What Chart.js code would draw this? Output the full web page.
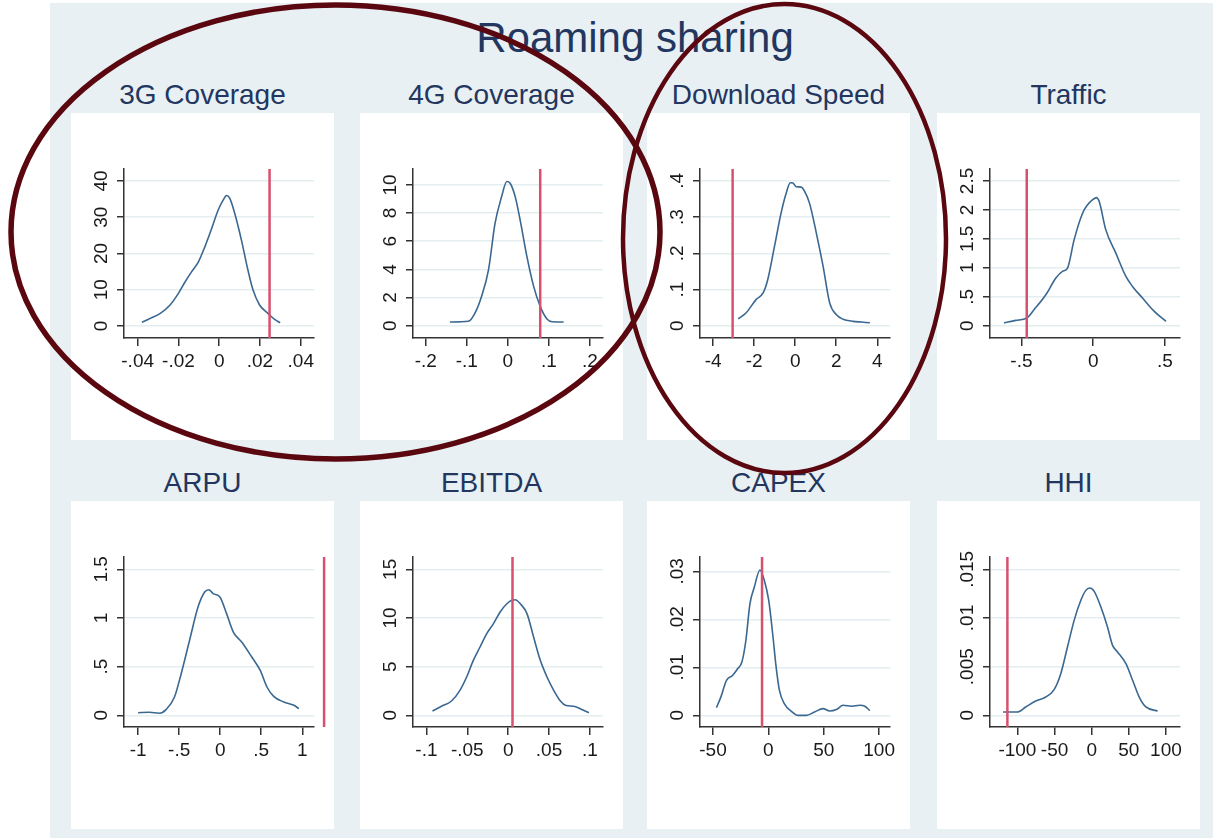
<!DOCTYPE html>
<html><head><meta charset="utf-8">
<script src="https://cdn.jsdelivr.net/npm/chart.js@4.4.1/dist/chart.umd.min.js"></script>
<style>
html,body{margin:0;padding:0;background:#fff;width:1213px;height:838px;overflow:hidden;font-family:"Liberation Sans",Arial,sans-serif;}
#bg{position:absolute;left:50px;top:3px;width:1163px;height:835px;background:#e8f0f3;}
.panel{position:absolute;background:#fff;}
.title{position:absolute;text-align:center;color:#223660;white-space:nowrap;line-height:1;}
#ov{position:absolute;left:0;top:0;pointer-events:none;}
</style></head><body>
<div id="bg"></div>
<div class="title" id="main" style="left:71px;width:1128px;top:16.5px;font-size:42px;">Roaming sharing</div>
<div id="root"></div>
<svg id="ov" width="1213" height="838">
  <ellipse cx="335.5" cy="232" rx="324.5" ry="227" fill="none" stroke="#5a0710" stroke-width="5.5"/>
  <ellipse cx="784.5" cy="238.5" rx="161.5" ry="234.5" fill="none" stroke="#5a0710" stroke-width="4.5"/>
</svg>
<script>
// ---- data ----
const panelTitles = ['3G Coverage','4G Coverage','Download Speed','Traffic','ARPU','EBITDA','CAPEX','HHI'];

const cov3gX = [-0.0379,-0.0338,-0.0289,-0.0241,-0.02,-0.0167,-0.0135,-0.0102,-0.007,-0.0037,-0.0005,0.002,0.0036,0.0052,0.0076,0.0109,0.0141,0.0166,0.0198,0.0239,0.0272,0.0299];
const cov3gY = [1.0,2.1,3.5,5.8,9.0,12.2,15.0,17.7,21.9,26.9,32.0,34.8,36.0,35.2,31.1,23.7,15.4,9.9,5.8,3.5,1.8,0.9];
const cov3gLine = 0.0247;
const cov3gXRange = [-0.0467, 0.0465];
const cov3gYRange = [-3.31, 43.31];
const cov3gXTicks = [-0.04,-0.02,0,0.02,0.04];
const cov3gXLabels = ['-.04','-.02','0','.02','.04'];
const cov3gYTicks = [0,10,20,30,40];
const cov3gYLabels = ['0','10','20','30','40'];

const cov4gX = [-0.141,-0.096,-0.08,-0.064,-0.047,-0.031,-0.015,-0.0024,0.0057,0.018,0.030,0.0465,0.063,0.079,0.0955,0.108,0.136];
const cov4gY = [0.26,0.31,0.9,2.08,3.97,7.28,9.17,10.24,10.12,9.17,7.52,4.92,2.79,1.37,0.47,0.28,0.26];
const cov4gLine = 0.079;
const cov4gXRange = [-0.231, 0.232];
const cov4gYRange = [-0.875, 11.13];
const cov4gXTicks = [-0.2,-0.1,0,0.1,0.2];
const cov4gXLabels = ['-.2','-.1','0','.1','.2'];
const cov4gYTicks = [0,2,4,6,8,10];
const cov4gYLabels = ['0','2','4','6','8','10'];

const speedX = [-2.78,-2.4,-1.91,-1.55,-1.34,-1.01,-0.69,-0.44,-0.24,-0.11,0.05,0.29,0.46,0.70,1.03,1.36,1.68,2.01,2.33,2.82,3.23,3.64];
const speedY = [0.019,0.035,0.072,0.092,0.127,0.219,0.311,0.366,0.395,0.394,0.384,0.383,0.371,0.338,0.256,0.164,0.063,0.030,0.018,0.012,0.010,0.008];
const speedLine = -3.05;
const speedXRange = [-4.64, 4.62];
const speedYRange = [-0.034, 0.433];
const speedXTicks = [-4,-2,0,2,4];
const speedXLabels = ['-4','-2','0','2','4'];
const speedYTicks = [0,0.1,0.2,0.3,0.4];
const speedYLabels = ['0','.1','.2','.3','.4'];

const trafficX = [-0.621,-0.540,-0.463,-0.412,-0.330,-0.260,-0.214,-0.179,-0.133,-0.074,-0.040,-0.005,0.023,0.042,0.088,0.158,0.228,0.274,0.344,0.426,0.507];
const trafficY = [0.046,0.092,0.132,0.276,0.534,0.822,0.937,0.994,1.483,1.943,2.086,2.172,2.213,2.144,1.655,1.253,0.851,0.678,0.477,0.247,0.075];
const trafficLine = -0.463;
const trafficXRange = [-0.719, 0.605];
const trafficYRange = [-0.213, 2.707];
const trafficXTicks = [-0.5,0,0.5];
const trafficXLabels = ['-.5','0','.5'];
const trafficYTicks = [0,0.5,1,1.5,2,2.5];
const trafficYLabels = ['0','.5','1','1.5','2','2.5'];

const arpuX = [-1.0,-0.865,-0.742,-0.66,-0.557,-0.475,-0.373,-0.27,-0.189,-0.139,-0.086,-0.004,0.078,0.16,0.262,0.385,0.488,0.57,0.652,0.775,0.898,0.959];
const arpuY = [0.027,0.031,0.021,0.058,0.188,0.428,0.771,1.113,1.267,1.291,1.25,1.216,1.045,0.856,0.753,0.599,0.462,0.291,0.195,0.137,0.103,0.068];
const arpuLine = 1.266;
const arpuXRange = [-1.172, 1.143];
const arpuYRange = [-0.12, 1.627];
const arpuXTicks = [-1,-0.5,0,0.5,1];
const arpuXLabels = ['-1','-.5','0','.5','1'];
const arpuYTicks = [0,0.5,1,1.5];
const arpuYLabels = ['0','.5','1','1.5'];

const ebitdaX = [-0.0926,-0.0816,-0.0693,-0.059,-0.0508,-0.0426,-0.0344,-0.0262,-0.018,-0.0098,-0.0016,0.0045,0.0086,0.0148,0.023,0.0311,0.0393,0.0475,0.0557,0.0639,0.0701,0.0803,0.0906,0.0988];
const ebitdaY = [0.445,0.925,1.47,2.57,3.94,5.65,7.02,8.39,9.42,10.62,11.47,11.82,11.88,11.47,10.45,8.05,5.65,3.94,2.57,1.47,1.03,0.925,0.58,0.27];
const ebitdaLine = 0.0053;
const ebitdaXRange = [-0.1164, 0.116];
const ebitdaYRange = [-1.2, 16.27];
const ebitdaXTicks = [-0.1,-0.05,0,0.05,0.1];
const ebitdaXLabels = ['-.1','-.05','0','.05','.1'];
const ebitdaYTicks = [0,5,10,15];
const ebitdaYLabels = ['0','5','10','15'];

const capexX = [-46.9,-42.9,-37.8,-32.4,-27.8,-23.9,-20.3,-16.6,-12.7,-7.6,-3.6,0.3,3.9,7.0,10.0,14.5,20.6,26.6,34.2,41.7,49.3,55.3,61.4,67.4,75.0,82.6,87.1,91.6];
const capexY = [0.0016,0.0038,0.0073,0.0083,0.0097,0.0111,0.0156,0.0233,0.0267,0.0303,0.0281,0.0240,0.0170,0.0101,0.0052,0.0024,0.0009,0.0,0.0,0.0007,0.0014,0.0009,0.0012,0.0021,0.0019,0.0021,0.0019,0.0010];
const capexLine = -5.7;
const capexXRange = [-61.7, 109.8];
const capexYRange = [-0.00243, 0.033];
const capexXTicks = [-50,0,50,100];
const capexXLabels = ['-50','0','50','100'];
const capexYTicks = [0,0.01,0.02,0.03];
const capexYLabels = ['0','.01','.02','.03'];

const hhiX = [-119.3,-100,-88.8,-75.3,-61.8,-50.6,-41.6,-32.6,-23.6,-14.6,-7.9,-2.5,3.4,12.4,21.3,28.1,34.8,46.1,55.1,64.0,73.0,88.8];
const hhiY = [0.00034,0.00034,0.00086,0.00147,0.00188,0.00264,0.00428,0.00702,0.00976,0.01182,0.01284,0.01308,0.01274,0.01113,0.00908,0.00719,0.00651,0.00531,0.0036,0.00188,0.00086,0.00045];
const hhiLine = -113.5;
const hhiXRange = [-136.9, 118.9];
const hhiYRange = [-0.0012, 0.01627];
const hhiXTicks = [-100,-50,0,50,100];
const hhiXLabels = ['-100','-50','0','50','100'];
const hhiYTicks = [0,0.005,0.01,0.015];
const hhiYLabels = ['0','.005','.01','.015'];

// ---- assemble ----
const panels = [
  [cov3gX,cov3gY,cov3gLine,cov3gXRange,cov3gYRange,cov3gXTicks,cov3gXLabels,cov3gYTicks,cov3gYLabels],
  [cov4gX,cov4gY,cov4gLine,cov4gXRange,cov4gYRange,cov4gXTicks,cov4gXLabels,cov4gYTicks,cov4gYLabels],
  [speedX,speedY,speedLine,speedXRange,speedYRange,speedXTicks,speedXLabels,speedYTicks,speedYLabels],
  [trafficX,trafficY,trafficLine,trafficXRange,trafficYRange,trafficXTicks,trafficXLabels,trafficYTicks,trafficYLabels],
  [arpuX,arpuY,arpuLine,arpuXRange,arpuYRange,arpuXTicks,arpuXLabels,arpuYTicks,arpuYLabels],
  [ebitdaX,ebitdaY,ebitdaLine,ebitdaXRange,ebitdaYRange,ebitdaXTicks,ebitdaXLabels,ebitdaYTicks,ebitdaYLabels],
  [capexX,capexY,capexLine,capexXRange,capexYRange,capexXTicks,capexXLabels,capexYTicks,capexYLabels],
  [hhiX,hhiY,hhiLine,hhiXRange,hhiYRange,hhiXTicks,hhiXLabels,hhiYTicks,hhiYLabels]
];

const colLeft = [71, 360, 647, 937];
const rowTop = [113, 501];
const rowH = [327, 328];
const panelW = 263;
const FONT = '"Liberation Sans", Arial, sans-serif';
const tickFont = {family: FONT, size: 19};
const mctx = document.createElement('canvas').getContext('2d');
mctx.font = '19px ' + FONT;
const axisCol = '#333333';
const root = document.getElementById('root');

panels.forEach((p, i) => {
  const [xs, ys, vline, xr, yr, xt, xl, yt, yl] = p;
  const col = i % 4, row = Math.floor(i / 4);
  const left = colLeft[col], top = rowTop[row], h = rowH[row];

  const t = document.createElement('div');
  t.className = 'title';
  t.style.cssText = `left:${left}px;width:${panelW}px;top:${top - 32}px;font-size:28px;`;
  t.textContent = panelTitles[i];
  root.appendChild(t);

  const d = document.createElement('div');
  d.className = 'panel';
  d.style.cssText = `left:${left}px;top:${top}px;width:${panelW}px;height:${h}px;`;
  const c = document.createElement('canvas');
  c.width = panelW; c.height = h;
  c.style.width = panelW + 'px'; c.style.height = h + 'px';
  d.appendChild(c);
  root.appendChild(d);

  const widest = Math.max(...yl.map(s => mctx.measureText(s).width));
  const yPad = 22.5 - 7 - widest / 2;

  new Chart(c, {
    type: 'scatter',
    data: {datasets: [
      {data: xs.map((v, k) => ({x: v, y: ys[k]})), showLine: true, borderColor: '#3a6891', borderWidth: 1.6,
       pointRadius: 0, cubicInterpolationMode: 'monotone', order: 2},
      {data: [{x: vline, y: yr[0]}, {x: vline, y: yr[1]}], showLine: true, borderColor: '#d9506f', borderWidth: 2.5,
       pointRadius: 0, clip: false, order: 1}
    ]},
    options: {
      responsive: false, animation: false, devicePixelRatio: 1, events: [],
      layout: {padding: {top: 56, right: 20, left: 0, bottom: 0}},
      plugins: {legend: {display: false}, tooltip: {enabled: false}, title: {display: false}},
      scales: {
        x: {
          type: 'linear', position: 'bottom', min: xr[0], max: xr[1],
          afterBuildTicks: s => { s.ticks = xt.map(v => ({value: v})); },
          afterFit: s => { s.height = 102; },
          ticks: {autoSkip: false, maxRotation: 0, minRotation: 0, padding: 4, color: '#1a1a1a', font: tickFont,
                  callback: (v, k) => xl[k]},
          grid: {drawOnChartArea: false, drawTicks: true, tickLength: 8, color: axisCol, lineWidth: 1.5},
          border: {display: true, color: axisCol, width: 1.5}
        },
        y: {
          type: 'linear', position: 'left', min: yr[0], max: yr[1],
          afterBuildTicks: s => { s.ticks = yt.map(v => ({value: v})); },
          afterFit: s => { s.width = 53; },
          ticks: {autoSkip: false, minRotation: 90, maxRotation: 90, crossAlign: 'center', padding: yPad,
                  color: '#1a1a1a', font: tickFont, callback: (v, k) => yl[k]},
          grid: {color: '#e4edf0', lineWidth: 1.5, tickColor: axisCol, tickLength: 7, tickWidth: 1.5},
          border: {display: true, color: axisCol, width: 1.5}
        }
      }
    }
  });
});
</script>
</body></html>
